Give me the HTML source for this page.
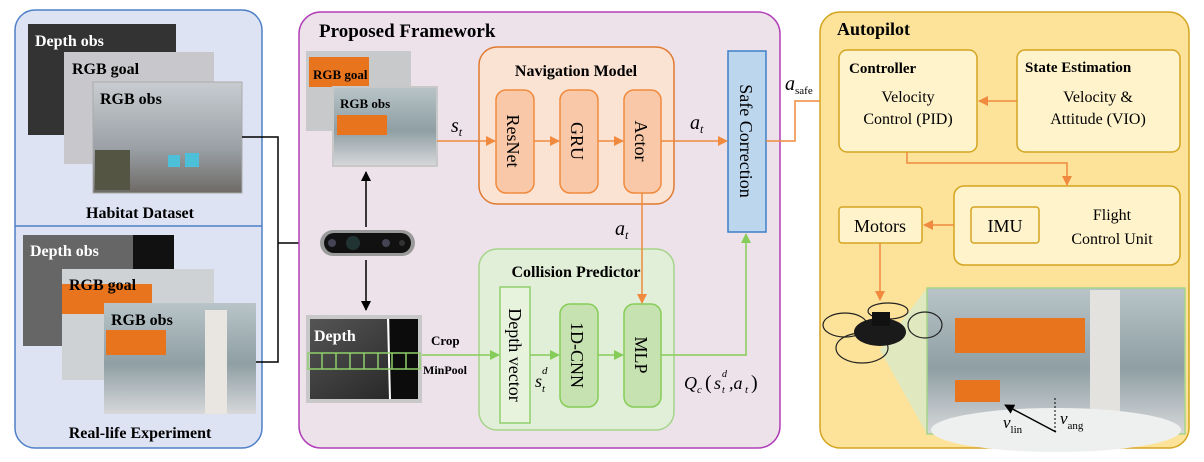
<!DOCTYPE html>
<html><head><meta charset="utf-8"><style>
html,body{margin:0;padding:0;background:#fff;width:1204px;height:462px;overflow:hidden}
svg{display:block}
text{font-family:"Liberation Serif",serif}
.b{font-weight:bold}
</style></head><body>
<svg width="1204" height="462" viewBox="0 0 1204 462" xmlns="http://www.w3.org/2000/svg">
<defs>
<marker id="ab" markerWidth="10" markerHeight="10" refX="9" refY="5" orient="auto" markerUnits="userSpaceOnUse"><path d="M0,0 L10,5 L0,10 z" fill="#000"/></marker>
<marker id="ao" markerWidth="10" markerHeight="10" refX="9" refY="5" orient="auto" markerUnits="userSpaceOnUse"><path d="M0,0 L10,5 L0,10 z" fill="#ef8a3e"/></marker>
<marker id="ag" markerWidth="10" markerHeight="10" refX="9" refY="5" orient="auto" markerUnits="userSpaceOnUse"><path d="M0,0 L10,5 L0,10 z" fill="#86cc58"/></marker>
<linearGradient id="room" x1="0" y1="0" x2="0" y2="1"><stop offset="0" stop-color="#c9cdd2"/><stop offset="0.6" stop-color="#9aa0a5"/><stop offset="1" stop-color="#6e6a66"/></linearGradient>
<linearGradient id="lab" x1="0" y1="0" x2="0" y2="1"><stop offset="0" stop-color="#b8c4c8"/><stop offset="0.55" stop-color="#8f9fa4"/><stop offset="1" stop-color="#d7d8da"/></linearGradient>
<linearGradient id="dep" x1="0" y1="0" x2="1" y2="1"><stop offset="0" stop-color="#555"/><stop offset="1" stop-color="#222"/></linearGradient>
</defs>

<rect x="15" y="10" width="247" height="438" rx="20" fill="#dde3f3" stroke="#4f80c8" stroke-width="1.5"/>
<line x1="15" y1="226" x2="262" y2="226" stroke="#4f80c8" stroke-width="1.5"/>
<rect x="28" y="24" width="148" height="111" fill="#333"/>
<text x="35" y="46" font-size="16" class="b" fill="#fff">Depth obs</text>
<rect x="64" y="52" width="150" height="112" fill="#c8c8cc"/>
<text x="72" y="74" font-size="16" class="b">RGB goal</text>
<rect x="93" y="82" width="149" height="111" fill="url(#room)" stroke="#aaa"/>
<rect x="95" y="150" width="35" height="40" fill="#554"/>
<rect x="168" y="155" width="12" height="12" fill="#4cc0d8"/><rect x="185" y="153" width="14" height="14" fill="#4cc0d8"/>
<text x="100" y="104" font-size="16" class="b">RGB obs</text>
<text x="140" y="218" font-size="16" class="b" text-anchor="middle">Habitat Dataset</text>

<rect x="23" y="235" width="151" height="111" fill="#666"/>
<rect x="133" y="235" width="41" height="34" fill="#111"/>
<text x="30" y="256" font-size="16" class="b" fill="#fff">Depth obs</text>
<rect x="62" y="269" width="152" height="111" fill="#cfd2d4"/>
<rect x="62" y="284" width="90" height="30" fill="#e8741e"/>
<text x="69" y="290" font-size="16" class="b">RGB goal</text>
<rect x="104" y="303" width="152" height="111" fill="url(#lab)"/>
<rect x="106" y="330" width="60" height="25" fill="#e8741e"/>
<rect x="205" y="310" width="22" height="104" fill="#e9e6e2"/>
<text x="111" y="325" font-size="16" class="b">RGB obs</text>
<text x="140" y="438" font-size="16" class="b" text-anchor="middle">Real-life Experiment</text>

<polyline points="242,137 278,137 278,362 256,362" fill="none" stroke="#000" stroke-width="1.5"/>
<line x1="278" y1="243" x2="318" y2="243" stroke="#000" stroke-width="1.5" marker-end="url(#ab)"/>

<rect x="299" y="12" width="481" height="436" rx="22" fill="#ede2ea" stroke="#b13fb8" stroke-width="1.5"/>
<text x="319" y="37" font-size="19" class="b">Proposed Framework</text>

<rect x="306" y="51" width="105" height="80" fill="#c8c9cb"/>
<rect x="309" y="57" width="60" height="30" fill="#e8741e"/>
<text x="313" y="79" font-size="13" class="b">RGB goal</text>
<rect x="333" y="87" width="104" height="79" fill="url(#lab)" stroke="#c8c8c8" stroke-width="2"/>
<rect x="337" y="115" width="50" height="20" fill="#e8741e"/>
<text x="340" y="108" font-size="13" class="b">RGB obs</text>

<rect x="320" y="230" width="95" height="26" rx="13" fill="#9a9a9a"/>
<rect x="324" y="233" width="87" height="20" rx="10" fill="#111"/>
<circle cx="332" cy="243" r="4" fill="#445"/><circle cx="353" cy="243" r="7" fill="#233"/><circle cx="386" cy="243" r="4" fill="#445"/><circle cx="402" cy="243" r="3" fill="#333"/>
<line x1="366" y1="227" x2="366" y2="172" stroke="#000" stroke-width="1.5" marker-end="url(#ab)"/>
<line x1="366" y1="260" x2="366" y2="310" stroke="#000" stroke-width="1.5" marker-end="url(#ab)"/>

<rect x="306" y="315" width="116" height="88" fill="#c8c8c8"/>
<rect x="310" y="319" width="108" height="80" fill="url(#dep)"/>
<rect x="390" y="319" width="28" height="80" fill="#0c0c0c"/>
<line x1="388" y1="319" x2="390" y2="399" stroke="#fff" stroke-width="2"/>
<text x="314" y="341" font-size="16" class="b" fill="#fff">Depth</text>
<g fill="none" stroke="#8fcf6a" stroke-width="1.5">
<rect x="308" y="353" width="112" height="16"/>
<line x1="322" y1="353" x2="322" y2="369"/><line x1="336" y1="353" x2="336" y2="369"/><line x1="350" y1="353" x2="350" y2="369"/><line x1="364" y1="353" x2="364" y2="369"/><line x1="378" y1="353" x2="378" y2="369"/><line x1="392" y1="353" x2="392" y2="369"/><line x1="406" y1="353" x2="406" y2="369"/>
</g>
<text x="431" y="345" font-size="13" class="b">Crop</text>
<text x="423" y="374" font-size="12" class="b">MinPool</text>

<rect x="479" y="47" width="195" height="157" rx="18" fill="#fbe3d4" stroke="#e07a30" stroke-width="1.5"/>
<text x="576" y="76" font-size="16" class="b" text-anchor="middle">Navigation Model</text>
<g fill="#f8c8a8" stroke="#ef8a3e" stroke-width="1.5">
<rect x="496" y="90" width="38" height="103" rx="10"/>
<rect x="560" y="90" width="38" height="103" rx="10"/>
<rect x="624" y="90" width="37" height="103" rx="10"/>
</g>
<text transform="translate(507,141) rotate(90)" font-size="18" text-anchor="middle">ResNet</text>
<text transform="translate(571,141) rotate(90)" font-size="18" text-anchor="middle">GRU</text>
<text transform="translate(635,141) rotate(90)" font-size="18" text-anchor="middle">Actor</text>

<rect x="728" y="51" width="38" height="181" fill="#bcd6ee" stroke="#3f7fc8" stroke-width="1.5"/>
<text transform="translate(740,141) rotate(90)" font-size="18" text-anchor="middle">Safe Correction</text>

<rect x="479" y="249" width="195" height="181" rx="18" fill="#e2efd8" stroke="#a6d48a" stroke-width="1.5"/>
<text x="576" y="277" font-size="16" class="b" text-anchor="middle">Collision Predictor</text>
<rect x="500" y="287" width="30" height="136" fill="#e8f3de" stroke="#8fcf6a" stroke-width="1.5"/>
<rect x="560" y="304" width="38" height="103" rx="10" fill="#c6e2b0" stroke="#86cc58" stroke-width="1.5"/>
<rect x="624" y="304" width="37" height="103" rx="10" fill="#c6e2b0" stroke="#86cc58" stroke-width="1.5"/>
<text transform="translate(509,355) rotate(90)" font-size="18" text-anchor="middle">Depth vector</text>
<text transform="translate(571,355) rotate(90)" font-size="18" text-anchor="middle">1D-CNN</text>
<text transform="translate(635,355) rotate(90)" font-size="18" text-anchor="middle">MLP</text>

<g stroke="#ef8a3e" stroke-width="1.5" fill="none">
<line x1="437" y1="141" x2="495" y2="141" marker-end="url(#ao)"/>
<line x1="534" y1="141" x2="559" y2="141" marker-end="url(#ao)"/>
<line x1="598" y1="141" x2="623" y2="141" marker-end="url(#ao)"/>
<line x1="661" y1="141" x2="727" y2="141" marker-end="url(#ao)"/>
<line x1="642" y1="193" x2="642" y2="303" marker-end="url(#ao)"/>
<polyline points="766,141 795,141 795,101 838,101" marker-end="url(#ao)"/>
</g>
<g stroke="#86cc58" stroke-width="1.5" fill="none">
<line x1="422" y1="355" x2="499" y2="355" marker-end="url(#ag)"/>
<line x1="530" y1="355" x2="559" y2="355" marker-end="url(#ag)"/>
<line x1="598" y1="355" x2="623" y2="355" marker-end="url(#ag)"/>
<polyline points="661,355 746,355 746,234" marker-end="url(#ag)"/>
</g>
<text x="451" y="132" font-size="20" font-style="italic">s<tspan font-size="12" dy="4">t</tspan></text>
<text x="690" y="129" font-size="20" font-style="italic">a<tspan font-size="12" dy="4">t</tspan></text>
<text x="615" y="235" font-size="20" font-style="italic">a<tspan font-size="12" dy="4">t</tspan></text>
<text x="785" y="90" font-size="20" font-style="italic">a<tspan font-size="11" dy="4" font-style="normal">safe</tspan></text>
<text x="535" y="387" font-size="18" font-style="italic">s</text>
<text x="542" y="374" font-size="11" font-style="italic">d</text>
<text x="542" y="392" font-size="11" font-style="italic">t</text>
<text x="684" y="389" font-size="18" font-style="italic">Q</text>
<text x="697" y="393" font-size="11" font-style="italic">c</text>
<text x="705" y="389" font-size="20">(</text>
<text x="714" y="389" font-size="18" font-style="italic">s</text>
<text x="722" y="377" font-size="10" font-style="italic">d</text>
<text x="722" y="393" font-size="10" font-style="italic">t</text>
<text x="729" y="389" font-size="18" font-style="italic">,a</text>
<text x="745" y="393" font-size="11" font-style="italic">t</text>
<text x="751" y="389" font-size="20">)</text>

<rect x="820" y="12" width="369" height="436" rx="20" fill="#fde39a" stroke="#d4a420" stroke-width="1.5"/>
<text x="837" y="35" font-size="18" class="b">Autopilot</text>
<g fill="#fff3cc" stroke="#d4a420" stroke-width="1.5">
<rect x="839" y="50" width="138" height="102" rx="8"/>
<rect x="1017" y="50" width="163" height="102" rx="8"/>
<rect x="954" y="186" width="226" height="79" rx="10"/>
<rect x="971" y="207" width="68" height="36" rx="3"/>
<rect x="839" y="207" width="83" height="36" rx="3"/>
</g>
<text x="849" y="73" font-size="15" class="b">Controller</text>
<text x="908" y="102" font-size="16" text-anchor="middle">Velocity</text>
<text x="908" y="124" font-size="16" text-anchor="middle">Control (PID)</text>
<text x="1025" y="72" font-size="15" class="b">State Estimation</text>
<text x="1098" y="102" font-size="16" text-anchor="middle">Velocity &amp;</text>
<text x="1098" y="124" font-size="16" text-anchor="middle">Attitude (VIO)</text>
<text x="1005" y="232" font-size="18" text-anchor="middle">IMU</text>
<text x="1112" y="220" font-size="16" text-anchor="middle">Flight</text>
<text x="1112" y="244" font-size="16" text-anchor="middle">Control Unit</text>
<text x="880" y="232" font-size="18" text-anchor="middle">Motors</text>
<g stroke="#ef8a3e" stroke-width="1.5" fill="none">
<line x1="1017" y1="101" x2="979" y2="101" marker-end="url(#ao)"/>
<polyline points="907,152 907,163 1067,163 1067,185" marker-end="url(#ao)"/>
<line x1="954" y1="225" x2="924" y2="225" marker-end="url(#ao)"/>
<line x1="880" y1="243" x2="880" y2="300" marker-end="url(#ao)"/>
</g>
<polygon points="880,350 927,288 927,434" fill="#d8e8c8" opacity="0.8"/>
<rect x="927" y="288" width="258" height="146" fill="url(#lab)" stroke="#a6d48a" stroke-width="1.5"/>
<rect x="955" y="318" width="130" height="35" fill="#e8741e"/>
<rect x="955" y="380" width="45" height="22" fill="#e8741e"/>
<rect x="1090" y="290" width="30" height="140" fill="#e4e2de"/>
<ellipse cx="1056" cy="430" rx="125" ry="22" fill="#eef0f0"/>
<line x1="1056" y1="432" x2="1005" y2="405" stroke="#000" stroke-width="1.5" marker-end="url(#ab)"/>
<line x1="1055" y1="398" x2="1055" y2="434" stroke="#000" stroke-width="1" stroke-dasharray="2,2"/>
<text x="1003" y="428" font-size="17" font-style="italic">v<tspan font-size="11" font-style="normal" dy="5">lin</tspan></text>
<text x="1060" y="424" font-size="17" font-style="italic">v<tspan font-size="11" font-style="normal" dy="5">ang</tspan></text>
<g fill="none" stroke="#222" stroke-width="1.2">
<ellipse cx="845" cy="325" rx="22" ry="12"/>
<ellipse cx="888" cy="311" rx="20" ry="8"/>
<ellipse cx="925" cy="325" rx="17" ry="13"/>
<ellipse cx="862" cy="348" rx="26" ry="15"/>
</g>
<ellipse cx="880" cy="332" rx="26" ry="14" fill="#1a1a1a"/>
<rect x="872" y="312" width="18" height="14" fill="#111"/>
</svg>
</body></html>
